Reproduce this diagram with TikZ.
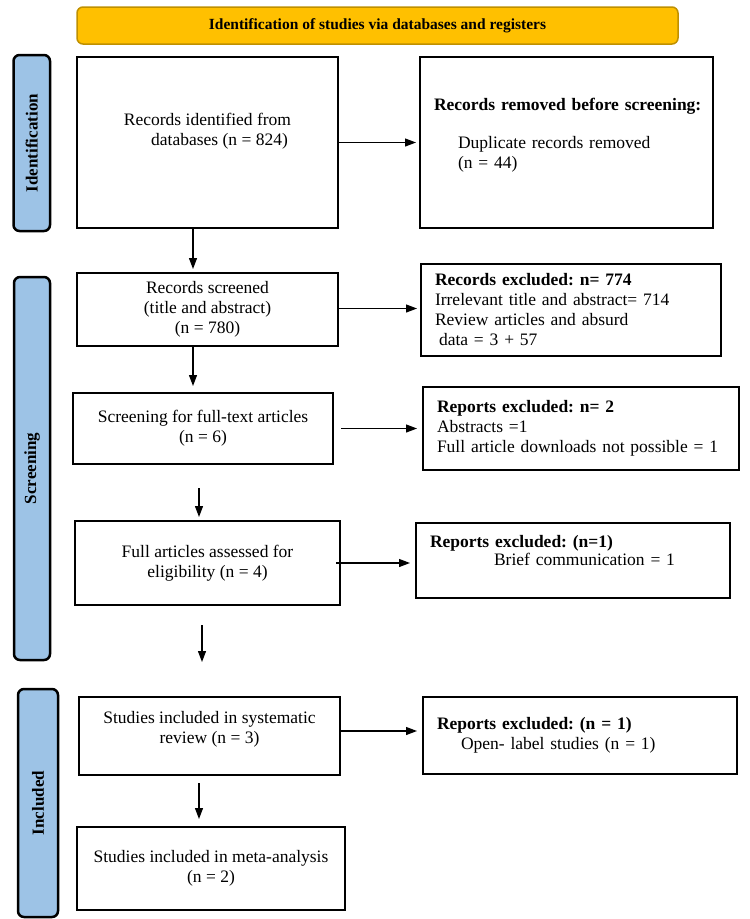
\documentclass[tikz,border=0pt]{standalone}
\usepackage{fontspec}
\setmainfont{Liberation Serif}
\usetikzlibrary{arrows.meta}
\definecolor{bannerfill}{HTML}{FFC000}
\definecolor{bannerdraw}{HTML}{BF9000}
\definecolor{stagefill}{HTML}{9DC3E6}
\frenchspacing

\begin{document}
\begin{tikzpicture}[%
        x=1pt, y=-1pt,%
        font=\fontsize{17.5}{20}\selectfont,%
        banner/.style={%
            rounded corners=6pt,%
            minimum width=601pt,%
            minimum height=37pt,%
            line width=1.5pt,%
            draw=bannerdraw,%
            fill=bannerfill,%
            font=\fontsize{15.5}{18}\selectfont\bfseries%
        },%
        stage/.style={%
            rounded corners=6pt,%
            line width=2.5pt,%
            draw=black,%
            fill=stagefill,%
            rotate=90,%
            font=\fontsize{17}{20}\selectfont\bfseries%
        },%
        record/.style={%
            draw=black,%
            line width=2pt,%
            align=center%
        },%
        excluded/.style={%
            record,%
            align=left,%
            inner xsep=14pt%
        },%
        flow/.style={%
            -{Triangle[length=11pt,width=8pt]},%
            line width=1.2pt%
        }%
    ]
    \useasboundingbox (0,0) rectangle (750,919);
    \node (head) at (377.5,25.5) [banner]{Identification of studies via databases and registers};
    % stages on the left
    \node (ident)  at (31.75,143) [stage, minimum width=176pt, minimum height=36.5pt]{Identification};
    \node (screen) at (32,468.5)  [stage, minimum width=383pt, minimum height=36pt]{Screening};
    \node (incl)   at (38,803)    [stage, minimum width=228pt, minimum height=40pt]{Included};
    % main column
    \node (found)    at (207.5,142.5) [record, minimum width=261pt, minimum height=171pt, text depth=26pt]{Records identified from\\\hspace*{24pt}databases (n = 824)};
    \node (screened) at (207.5,309.5) [record, minimum width=261pt, minimum height=73pt]{Records screened\\(title and abstract)\\(n = 780)};
    \node (fulltext) at (203,428.5)   [record, minimum width=260pt, minimum height=71pt]{Screening for full-text articles\\(n = 6)};
    \node (assessed) at (207.5,563)   [record, minimum width=265pt, minimum height=84pt]{Full articles assessed for\\eligibility (n = 4)};
    \node (review)   at (209.5,736)   [record, minimum width=261pt, minimum height=78pt, text depth=18pt]{Studies included in systematic\\review (n = 3)};
    \node (meta)     at (211,868.5)   [record, minimum width=268pt, minimum height=83pt]{Studies included in meta-analysis\\(n = 2)};
    % right column
    \node (removed)   at (566.5,142.5) [excluded, text width=265pt, minimum height=171pt, text depth=76pt]{\mbox{\textbf{Records removed before screening:}}\\[18pt]\hspace*{24pt}Duplicate records removed\\\hspace*{24pt}(n = 44)};
    \node (excl)      at (571,310)     [excluded, text width=272pt, minimum height=92pt]{\textbf{Records excluded: n= 774}\\Irrelevant title and abstract= 714\\Review articles and absurd\\\hspace*{4pt}data = 3 + 57};
    \node (reports)   at (581,428.5)   [excluded, text width=288pt, minimum height=83pt]{\textbf{Reports excluded: n= 2}\\Abstracts =1\\Full article downloads not possible = 1};
    \node (brief)     at (573,560.5)   [excluded, text width=286pt, minimum height=75pt, text depth=38pt]{\textbf{Reports excluded: (n=1)}\\[-2pt]\hspace*{64pt}Brief communication = 1};
    \node (openlabel) at (580,735.5)   [excluded, text width=286pt, minimum height=77pt]{\textbf{Reports excluded: (n = 1)}\\\hspace*{24pt}Open- label studies (n = 1)};
    % arrows
    \draw [flow, shorten >=3pt] (found.east) -- (found.east -| removed.west);
    \draw [flow, shorten >=3pt] ([yshift=1pt]screened.east) -- ([yshift=1pt]screened.east -| excl.west);
    \draw [flow, shorten <=7pt, shorten >=5pt] (fulltext.east) -- (fulltext.east -| reports.west);
    \draw [flow, shorten <=-5pt, shorten >=5pt] (assessed.east) -- (assessed.east -| brief.west);
    \draw [flow, shorten >=5pt] ([yshift=5pt]review.east) -- ([yshift=5pt]review.east -| openlabel.west);
    \draw [flow, shorten >=3pt] ([xshift=-14.5pt]found.south) -- ([xshift=-14.5pt]found.south |- screened.north);
    \draw [flow, shorten >=6pt] ([xshift=-14.5pt]screened.south) -- ([xshift=-14.5pt]screened.south |- fulltext.north);
    \draw [flow, shorten <=23pt, shorten >=3pt] ([xshift=-4pt]fulltext.south) -- ([xshift=-4pt]fulltext.south |- assessed.north);
    \draw [flow, shorten <=19pt, shorten >=34pt] ([xshift=-5.5pt]assessed.south) -- ([xshift=-5.5pt]assessed.south |- review.north);
    \draw [flow, shorten <=7pt, shorten >=7pt] ([xshift=-10.5pt]review.south) -- ([xshift=-10.5pt]review.south |- meta.north);
\end{tikzpicture}
\end{document}
